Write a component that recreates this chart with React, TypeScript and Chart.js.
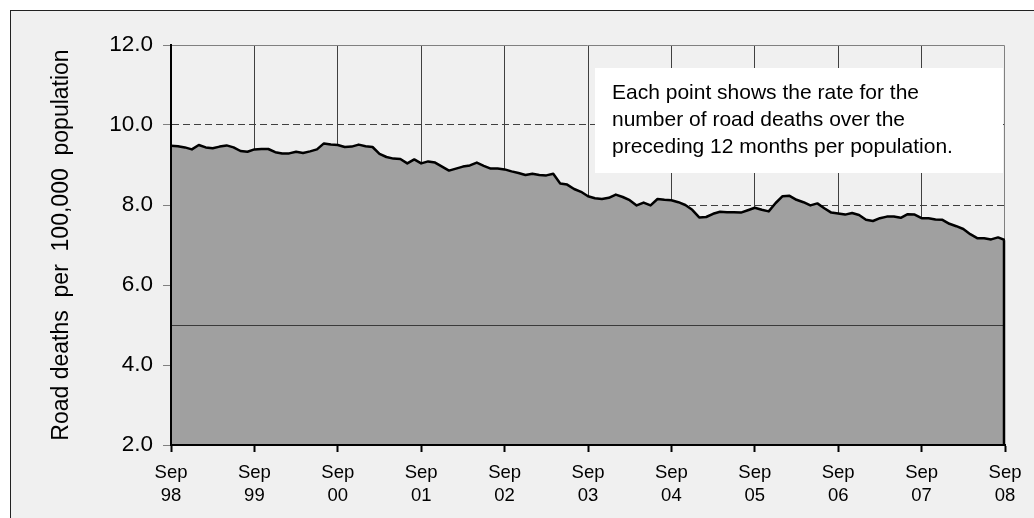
import React, { useEffect, useRef } from "react";
import { Chart, registerables } from "chart.js";

Chart.register(...registerables);

// Monthly rolling 12-month road death rate, Sep 1998 .. Sep 2008
const RATE_VALUES: number[] = [
  9.48, 9.47, 9.44, 9.39, 9.5, 9.44, 9.42, 9.46, 9.49, 9.44, 9.35, 9.33,
  9.39, 9.4, 9.4, 9.32, 9.29, 9.29, 9.33, 9.3, 9.34, 9.39, 9.54, 9.51,
  9.5, 9.45, 9.46, 9.51, 9.47, 9.45, 9.28, 9.2, 9.16, 9.15, 9.04, 9.14,
  9.04, 9.09, 9.06, 8.96, 8.86, 8.91, 8.96, 8.99, 9.06, 8.98, 8.91, 8.91,
  8.89, 8.84, 8.8, 8.75, 8.78, 8.75, 8.74, 8.78, 8.54, 8.51, 8.4, 8.33,
  8.22, 8.17, 8.15, 8.18, 8.26, 8.2, 8.12, 7.99, 8.06, 7.99, 8.15, 8.13,
  8.12, 8.07, 8.0, 7.88, 7.69, 7.7, 7.78, 7.83, 7.82, 7.82, 7.81, 7.87,
  7.93, 7.88, 7.84, 8.05, 8.22, 8.23, 8.13, 8.07, 7.99, 8.04, 7.92, 7.81,
  7.79, 7.76, 7.8, 7.75, 7.63, 7.6, 7.67, 7.71, 7.71, 7.68, 7.77, 7.76,
  7.67, 7.67, 7.64, 7.63, 7.53, 7.47, 7.4, 7.27, 7.17, 7.17, 7.14, 7.19,
  7.12,
];

const TICK_MONTH = "Sep";
const TICK_YEARS: string[] = ["98", "99", "00", "01", "02", "03", "04", "05", "06", "07", "08"];
const Y_MIN = 2;
const Y_MAX = 12;
const Y_STEP = 2;
const REFERENCE_VALUE = 5.0;
const Y_TITLE = "Road deaths  per  100,000  population";
const ANNOTATION_LINES: string[] = [
  "Each point shows the rate for the",
  "number of road deaths over the",
  "preceding 12 months per population.",
];

const FONT = "'Liberation Sans', Arial, Helvetica, sans-serif";

export default function App() {
  const canvasRef = useRef<HTMLCanvasElement | null>(null);

  useEffect(() => {
    const canvas = canvasRef.current;
    if (!canvas) return;
    const lastIdx = RATE_VALUES.length - 1;

    const overlay = {
      id: "overlay",
      beforeDatasetsDraw(chart: any) {
        const { ctx, chartArea } = chart;
        ctx.save();
        ctx.setLineDash([]);
        // plot border (top & right), gray
        ctx.strokeStyle = "#808080";
        ctx.lineWidth = 1;
        ctx.beginPath();
        ctx.moveTo(chartArea.left, chartArea.top + 0.5);
        ctx.lineTo(chartArea.right - 0.5, chartArea.top + 0.5);
        ctx.lineTo(chartArea.right - 0.5, chartArea.bottom);
        ctx.stroke();
        // annotation box
        ctx.fillStyle = "#ffffff";
        ctx.fillRect(595, 68, 408, 105);
        ctx.fillStyle = "#000000";
        ctx.font = `21px ${FONT}`;
        ctx.textAlign = "left";
        ctx.textBaseline = "alphabetic";
        ANNOTATION_LINES.forEach((line, i) => {
          ctx.fillText(line, 612, 99 + i * 26.8);
        });
        ctx.restore();
      },
      afterDatasetsDraw(chart: any) {
        const { ctx, chartArea } = chart;
        const xs = chart.scales.x;
        const ys = chart.scales.y;
        ctx.save();
        ctx.setLineDash([]);
        // reference line
        const yr = Math.round(ys.getPixelForValue(REFERENCE_VALUE)) + 0.5;
        ctx.strokeStyle = "#3a3a3a";
        ctx.lineWidth = 1;
        ctx.beginPath();
        ctx.moveTo(chartArea.left, yr);
        ctx.lineTo(chartArea.right, yr);
        ctx.stroke();
        // right edge of the area
        const xe = xs.getPixelForValue(lastIdx);
        ctx.strokeStyle = "#000000";
        ctx.lineWidth = 2.5;
        ctx.beginPath();
        ctx.moveTo(xe - 1, ys.getPixelForValue(RATE_VALUES[lastIdx]));
        ctx.lineTo(xe - 1, chartArea.bottom);
        ctx.stroke();
        ctx.restore();
      },
    };

    const chart = new Chart(canvas, {
      type: "line",
      data: {
        datasets: [
          {
            data: RATE_VALUES.map((v, i) => ({ x: i, y: v })),
            borderColor: "#000000",
            borderWidth: 2.5,
            backgroundColor: "#a0a0a0",
            fill: "start",
            pointRadius: 0,
            tension: 0,
            borderJoinStyle: "round",
          },
        ],
      },
      options: {
        responsive: false,
        animation: false,
        devicePixelRatio: 1,
        layout: { padding: { top: 45, right: 29, left: 0, bottom: 0 } },
        plugins: {
          legend: { display: false },
          tooltip: { enabled: false },
        },
        scales: {
          x: {
            type: "linear",
            min: 0,
            max: lastIdx,
            afterFit(scale: any) {
              scale.height = 73;
            },
            ticks: {
              stepSize: 12,
              autoSkip: false,
              maxRotation: 0,
              padding: 9,
              color: "#000000",
              font: { family: FONT, size: 18.5, lineHeight: 1.27 },
              callback: (value: any) => [TICK_MONTH, TICK_YEARS[Math.round(Number(value) / 12)]],
            },
            grid: {
              color: (ctx: any) => {
                const v = ctx.tick ? ctx.tick.value : -1;
                return v === 0 || v === lastIdx ? "rgba(0,0,0,0)" : "#404040";
              },
              lineWidth: 1,
              tickColor: "#000000",
              tickWidth: 2,
              tickLength: 7,
            },
            border: { display: true, color: "#000000", width: 2, z: 1 },
          },
          y: {
            min: Y_MIN,
            max: Y_MAX,
            afterFit(scale: any) {
              scale.width = 171;
            },
            ticks: {
              stepSize: Y_STEP,
              padding: 10,
              color: "#000000",
              font: { family: FONT, size: 22.5 },
              callback: (value: any) => Number(value).toFixed(1),
            },
            grid: {
              color: (ctx: any) => {
                const v = ctx.tick ? ctx.tick.value : 0;
                return v === Y_MIN || v === Y_MAX ? "rgba(0,0,0,0)" : "#404040";
              },
              lineWidth: 1,
              tickColor: "#808080",
              tickLength: 8,
              tickWidth: 1,
              tickBorderDash: [],
            },
            border: { display: true, color: "#000000", width: 2, z: 1, dash: [7, 4] },
            title: {
              display: true,
              text: Y_TITLE,
              color: "#000000",
              font: { family: FONT, size: 23 },
              padding: { top: 48, bottom: 0 },
            },
          },
        },
      },
      plugins: [overlay],
    } as any);

    return () => {
      chart.destroy();
    };
  }, []);

  return (
    <div
      style={{
        position: "fixed",
        left: 0,
        top: 0,
        width: 1034,
        height: 518,
        background: "#ffffff",
        overflow: "hidden",
      }}
    >
      <div
        style={{
          position: "absolute",
          left: 10,
          top: 10,
          width: 1030,
          height: 520,
          background: "#f0f0f0",
          borderLeft: "1px solid #222",
          borderTop: "1px solid #222",
        }}
      />
      <canvas
        ref={canvasRef}
        width={1034}
        height={518}
        style={{ position: "absolute", left: 0, top: 0, width: 1034, height: 518 }}
      />
    </div>
  );
}
